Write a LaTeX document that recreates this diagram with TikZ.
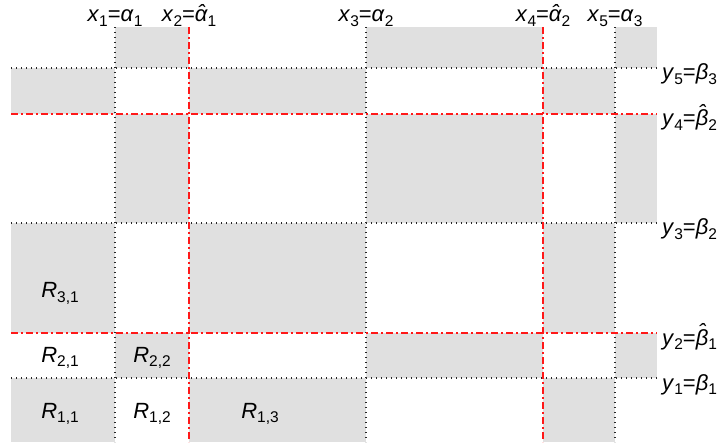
\documentclass[tikz,border=0pt]{standalone}
\usepackage{fontspec}
\setmainfont{Liberation Sans}
\usepackage{xcolor}
\usetikzlibrary{calc}

\definecolor{cellgray}{RGB}{224,224,224}
\definecolor{cutred}{RGB}{255,25,25}

% labels: italic letter with small upright index
\newcommand\subidx[1]{\raisebox{-0.2em}{\fontsize{15.5}{16}\selectfont #1}}
\newcommand\symb[2]{\textit{#1}\subidx{#2}}
\newcommand\hatglyph[1]{{\setbox0\hbox{#1}\rlap{\hbox to\wd0{\hss\raisebox{\dimexpr\ht0-1ex+1.5pt\relax}{ˆ}\hss}}\box0}}
\newcommand\hatsymb[2]{\textit{\hatglyph{#1}}\subidx{#2}}

\begin{document}
\begin{tikzpicture}[x=1pt,y=-1pt,
  cell/.style={fill=cellgray},
  bound/.style={line width=1.3pt, black!85, dash pattern=on 1.3pt off 3.7pt},
  cut/.style={line width=1.5pt, cutred, dash pattern=on 7pt off 3pt on 2pt off 3pt},
  lbl/.style={anchor=base, inner sep=0pt, font=\fontsize{22}{26}\selectfont},
  sidelbl/.style={lbl, anchor=base west}]
\useasboundingbox (0,0) rectangle (719,443);

% Row 1 (bottom)
\fill[cell] (11,378) rectangle (115,442);
\fill[cell] (189,378) rectangle (366,442);
\fill[cell] (543,378) rectangle (615,442);
% Row 2
\fill[cell] (115,333) rectangle (189,378);
\fill[cell] (366,333) rectangle (543,378);
\fill[cell] (615,333) rectangle (657,378);
% Row 3
\fill[cell] (11,223) rectangle (115,333);
\fill[cell] (189,223) rectangle (366,333);
\fill[cell] (543,223) rectangle (615,333);
% Row 4
\fill[cell] (115,114) rectangle (189,223);
\fill[cell] (366,114) rectangle (543,223);
\fill[cell] (615,114) rectangle (657,223);
% Row 5
\fill[cell] (11,68) rectangle (115,114);
\fill[cell] (189,68) rectangle (366,114);
\fill[cell] (543,68) rectangle (615,114);
% Row 6 (top)
\fill[cell] (115,27) rectangle (189,68);
\fill[cell] (366,27) rectangle (543,68);
\fill[cell] (615,27) rectangle (657,68);

% boundaries alpha / beta
\draw[bound] (115,27) -- (115,442);
\draw[bound] (366,27) -- (366,442);
\draw[bound] (615,27) -- (615,442);
\draw[bound] (11,68) -- (657,68);
\draw[bound] (11,223) -- (657,223);
\draw[bound] (11,378) -- (657,378);

% cuts alpha hat / beta hat
\draw[cut] (189,27) -- (189,442);
\draw[cut] (543,27) -- (543,442);
\draw[cut] (11,114) -- (657,114);
\draw[cut] (11,333) -- (657,333);

% top labels
\node[lbl] (x1) at (115,22) {\symb{x}{1}=\symb{α}{1}};
\node[lbl] (x2) at (189,22) {\symb{x}{2}=\hatsymb{α}{1}};
\node[lbl] (x3) at (366,22) {\symb{x}{3}=\symb{α}{2}};
\node[lbl] (x4) at (543,22) {\symb{x}{4}=\hatsymb{α}{2}};
\node[lbl] (x5) at (615,22) {\symb{x}{5}=\symb{α}{3}};

% side labels
\node[sidelbl] (y5) at (662,80) {\symb{y}{5}=\symb{β}{3}};
\node[sidelbl] (y4) at (662,126) {\symb{y}{4}=\hatsymb{β}{2}};
\node[sidelbl] (y3) at (662,235) {\symb{y}{3}=\symb{β}{2}};
\node[sidelbl] (y2) at (662,345) {\symb{y}{2}=\hatsymb{β}{1}};
\node[sidelbl] (y1) at (662,390) {\symb{y}{1}=\symb{β}{1}};

% regions
\node[lbl] (R31) at (60,298) {\symb{R}{3,1}};
\node[lbl] (R21) at (60,362) {\symb{R}{2,1}};
\node[lbl] (R22) at (152,362) {\symb{R}{2,2}};
\node[lbl] (R11) at (60,418) {\symb{R}{1,1}};
\node[lbl] (R12) at (152,418) {\symb{R}{1,2}};
\node[lbl] (R13) at (260,418) {\symb{R}{1,3}};
\end{tikzpicture}
\end{document}
